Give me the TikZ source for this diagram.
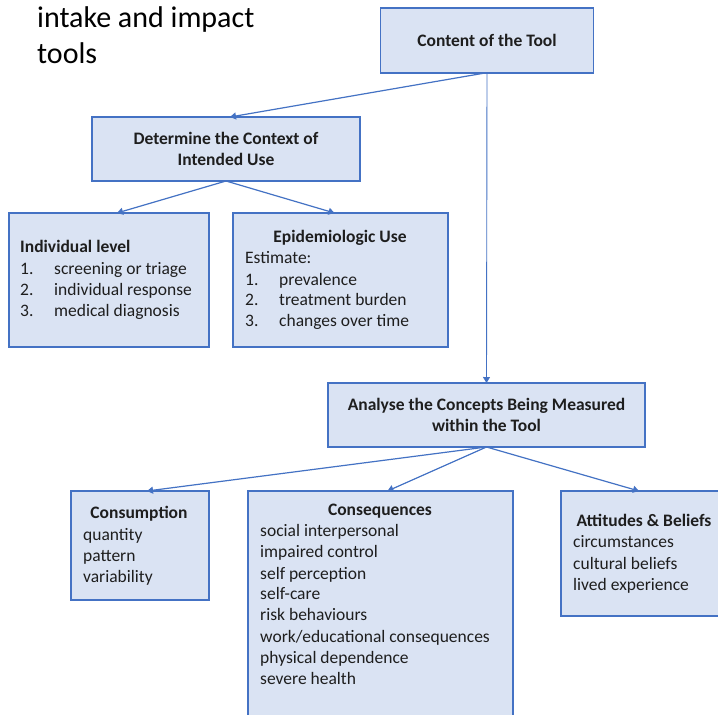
\documentclass[tikz,border=0pt]{standalone}
\usepackage{fontspec}
\setmainfont{Carlito}
\usetikzlibrary{arrows.meta,calc}
\definecolor{boxline}{HTML}{4472C4}
\definecolor{boxfill}{HTML}{DAE3F3}
\definecolor{ink}{HTML}{1E1E1E}
\begin{document}
\begin{tikzpicture}[x=1pt,y=-1pt,
  box/.style={draw=boxline, fill=boxfill, line width=1.3pt, inner sep=0pt, outer sep=0pt,
    text=ink, font=\fontsize{17.5}{21}\selectfont\bfseries, align=center},
  arr/.style={draw=boxline, line width=1.2pt, -{Triangle[width=7pt,length=6pt]}},
  vline/.style={draw=boxline, line width=0.9pt, -{Triangle[width=7pt,length=6pt]}},
  txt/.style={inner sep=0pt, anchor=mid west, yshift=-3.5pt, text=ink, font=\fontsize{17.5}{21}\selectfont},
  hd/.style={inner sep=0pt, anchor=mid, yshift=-3.5pt, text=ink, font=\fontsize{17.5}{21}\selectfont\bfseries},
  hdl/.style={inner sep=0pt, anchor=mid west, yshift=-3.5pt, text=ink, font=\fontsize{17.5}{21}\selectfont\bfseries},
  ttl/.style={inner sep=0pt, anchor=base west, text=black, font=\fontsize{30}{36}\selectfont}]
\clip (0,0) rectangle (718,715);
\fill[white] (0,0) rectangle (718,715);

% title
\node[ttl] (t1) at (37,27) {intake and impact};
\node[ttl] (t2) at (37,63) {tools};

% boxes
\node[box, minimum width=213pt, minimum height=65pt] (content) at (487,40.5) {Content of the Tool};
\node[box, minimum width=268pt, minimum height=64pt] (det) at (226,149) {Determine the Context of\\Intended Use};
\node[box, minimum width=200pt, minimum height=134pt] (ind) at (109,280) {};
\node[box, minimum width=215pt, minimum height=134pt] (epi) at (340.5,280) {};
\node[box, minimum width=317pt, minimum height=64pt] (ana) at (486.5,415) {Analyse the Concepts Being Measured\\within the Tool};
\node[box, minimum width=138pt, minimum height=109pt] (cons) at (140,545.5) {};
\node[box, minimum width=265pt, minimum height=240pt] (conseq) at (380.5,611) {};
\node[box, minimum width=160pt, minimum height=125pt] (att) at (641,553.5) {};

% connectors
\draw[arr] ($(content.south)+(-2,0)$) -- ($(det.north)+(4,0)$);
\draw[vline] (content.south) -- (ana.north);
\draw[arr] (det.south) -- ($(ind.north)+(8,0)$);
\draw[arr] (det.south) -- ($(epi.north)+(-6,0)$);
\draw[arr] (ana.south) -- ($(cons.north)+(7,0)$);
\draw[arr] (ana.south) -- ($(conseq.north)+(7,0)$);
\draw[arr] (ana.south) -- ($(att.north)+(-2,0)$);

% individual level
\node[hdl] (indh) at (20,247) {Individual level};
\node[txt] (indn1) at (20,269) {1.};
\node[txt] (indi1) at (54,269) {screening or triage};
\node[txt] (indn2) at (20,290) {2.};
\node[txt] (indi2) at (54,290) {individual response};
\node[txt] (indn3) at (20,311) {3.};
\node[txt] (indi3) at (54,311) {medical diagnosis};

% epidemiologic use
\node[hd] (epih) at (340,237) {Epidemiologic Use};
\node[txt] (epie) at (245,258) {Estimate:};
\node[txt] (epin1) at (245,280) {1.};
\node[txt] (epii1) at (279,280) {prevalence};
\node[txt] (epin2) at (245,300) {2.};
\node[txt] (epii2) at (279,300) {treatment burden};
\node[txt] (epin3) at (245,321) {3.};
\node[txt] (epii3) at (279,321) {changes over time};

% consumption
\node[hd] (consh) at (139,513) {Consumption};
\node[txt] (cons1) at (83,535) {quantity};
\node[txt] (cons2) at (83,556) {pattern};
\node[txt] (cons3) at (83,577) {variability};

% consequences
\node[hd] (conh) at (380,510) {Consequences};
\node[txt] (con1) at (260,531) {social interpersonal};
\node[txt] (con2) at (260,552) {impaired control};
\node[txt] (con3) at (260,574) {self perception};
\node[txt] (con4) at (260,594) {self-care};
\node[txt] (con5) at (260,615) {risk behaviours};
\node[txt] (con6) at (260,637) {work/educational consequences};
\node[txt] (con7) at (260,658) {physical dependence};
\node[txt] (con8) at (260,679) {severe health};

% attitudes
\node[hd] (atth) at (644,521) {Attitudes \& Beliefs};
\node[txt] (att1) at (573,542) {circumstances};
\node[txt] (att2) at (573,564) {cultural beliefs};
\node[txt] (att3) at (573,585) {lived experience};
\end{tikzpicture}
\end{document}
